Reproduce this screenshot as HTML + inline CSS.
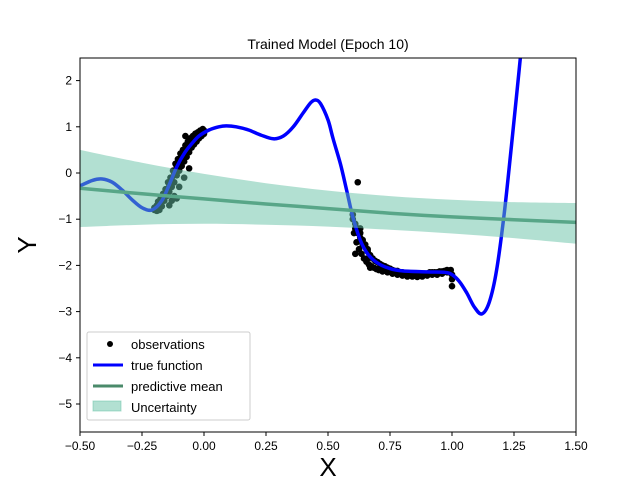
<!DOCTYPE html>
<html><head><meta charset="utf-8"><style>
body{margin:0;background:#fff;}
svg text{font-family:"Liberation Sans","DejaVu Sans",sans-serif;}
</style></head><body>
<svg id="chart" width="640" height="480" xmlns="http://www.w3.org/2000/svg">
<rect width="640" height="480" fill="#fff"/>
<defs><clipPath id="clip"><rect x="80" y="58" width="496" height="374"/></clipPath></defs>
<g id="plot" clip-path="url(#clip)"></g>
<rect x="80" y="58" width="496" height="374" fill="none" stroke="#000" stroke-width="1"/>
<g id="axes"></g>
<text x="328" y="49" font-size="14" text-anchor="middle">Trained Model (Epoch 10)</text>
<text x="328" y="476" font-size="26" text-anchor="middle">X</text>
<text x="36" y="245" font-size="26" text-anchor="middle" transform="rotate(-90 36 245)">Y</text>
<g>
<rect x="87" y="332" width="163" height="88" fill="#fff" fill-opacity="0.8" stroke="#ccc" rx="2"/>
<g><circle cx="110" cy="344" r="3" fill="#000"/><text x="131" y="349" font-size="13">observations</text></g>
<g><line x1="93" y1="365" x2="123" y2="365" stroke="#0000ff" stroke-width="3"/><text x="131" y="370" font-size="13">true function</text></g>
<g><line x1="93" y1="386" x2="123" y2="386" stroke="#4a8a6a" stroke-width="3"/><text x="131" y="391" font-size="13">predictive mean</text></g>
<g><rect x="93" y="401" width="28" height="10" fill="#66c2a5" fill-opacity="0.5" stroke="#66c2a5" stroke-opacity="0.5"/><text x="131" y="412" font-size="13">Uncertainty</text></g>
</g>
</svg>
<script>
const trueX=[-0.5,-0.45,-0.41,-0.37,-0.33,-0.29,-0.25,-0.21,-0.17,-0.14,-0.11,-0.08,-0.05,-0.02,0.02,0.06,0.09,0.13,0.18,0.23,0.28,0.32,0.36,0.4,0.43,0.45,0.47,0.5,0.52,0.55,0.575,0.6,0.63,0.66,0.7,0.75,0.8,0.9,0.97,1.0,1.03,1.06,1.09,1.12,1.15,1.18,1.21,1.24,1.27,1.3,1.33];
const trueY=[-0.28,-0.16,-0.13,-0.2,-0.37,-0.58,-0.75,-0.8,-0.6,-0.25,0.13,0.42,0.63,0.8,0.93,1.0,1.02,1.0,0.93,0.82,0.74,0.8,1.0,1.3,1.52,1.58,1.5,1.15,0.75,0.2,-0.37,-0.95,-1.45,-1.75,-1.95,-2.07,-2.12,-2.14,-2.15,-2.2,-2.35,-2.6,-2.9,-3.05,-2.8,-2.1,-0.9,0.6,2.2,3.8,5.5];
const meanX=[-0.5,-0.25,0,0.25,0.5,0.75,1.0,1.25,1.5];
const meanY=[-0.33,-0.45,-0.56,-0.67,-0.77,-0.87,-0.95,-1.01,-1.07];
const upperY=[0.5,0.22,-0.02,-0.22,-0.38,-0.5,-0.58,-0.63,-0.65];
const lowerY=[-1.17,-1.12,-1.1,-1.12,-1.16,-1.23,-1.31,-1.41,-1.53];
const obsX=[-0.2,-0.2,-0.19,-0.19,-0.18,-0.18,-0.17,-0.17,-0.16,-0.16,-0.15,-0.15,-0.14,-0.14,-0.13,-0.13,-0.12,-0.12,-0.11,-0.11,-0.1,-0.1,-0.09,-0.09,-0.08,-0.08,-0.07,-0.07,-0.06,-0.06,-0.05,-0.05,-0.04,-0.04,-0.03,-0.03,-0.02,-0.02,-0.01,-0.01,0,0,-0.075,-0.13,-0.11,
-0.185,-0.175,-0.165,-0.155,-0.145,-0.135,-0.125,-0.115,-0.105,-0.095,-0.085,-0.075,-0.065,-0.055,-0.045,-0.035,-0.025,-0.015,-0.005,-0.14,-0.12,-0.1,-0.08,-0.06,
0.6,0.6,0.61,0.61,0.62,0.62,0.63,0.63,0.64,0.64,0.65,0.65,0.66,0.66,0.67,0.68,0.69,0.7,0.71,0.72,0.73,0.74,0.75,0.76,0.77,0.78,0.79,0.8,0.81,0.82,0.83,0.84,0.85,0.86,0.87,0.88,0.89,0.9,0.91,0.92,0.93,0.94,0.95,0.96,0.97,0.98,0.99,1.0,1.0,1.0,0.62,0.61,0.63,0.66,0.64,0.67,
0.605,0.615,0.625,0.635,0.645,0.655,0.665,0.675,0.685,0.695,0.705,0.72,0.74,0.76,0.78,0.8,0.82,0.84,0.86,0.88,0.9,0.92,0.94,0.96,0.98,0.995];
const obsY=[-0.8,-0.75,-0.82,-0.7,-0.8,-0.68,-0.72,-0.6,-0.6,-0.5,-0.5,-0.35,-0.4,-0.25,-0.3,-0.1,-0.2,0.0,-0.05,0.15,0.05,0.25,0.15,0.35,0.25,0.45,0.35,0.55,0.45,0.62,0.55,0.7,0.62,0.78,0.68,0.82,0.75,0.86,0.8,0.9,0.85,0.92,0.8,-0.6,-0.55,
-0.62,-0.55,-0.45,-0.35,-0.2,-0.1,0.05,0.2,0.3,0.42,0.5,0.6,0.68,0.75,0.8,0.85,0.88,0.92,0.95,-0.7,-0.5,-0.3,-0.1,0.1,
-1.0,-0.9,-1.1,-1.2,-1.3,-1.2,-1.4,-1.3,-1.55,-1.45,-1.6,-1.55,-1.7,-1.65,-1.78,-1.85,-1.9,-1.93,-1.97,-2.0,-2.02,-2.05,-2.07,-2.1,-2.12,-2.12,-2.15,-2.15,-2.17,-2.2,-2.2,-2.2,-2.2,-2.22,-2.2,-2.2,-2.18,-2.18,-2.15,-2.15,-2.15,-2.15,-2.13,-2.13,-2.12,-2.15,-2.15,-2.2,-2.3,-2.45,-0.2,-1.75,-1.2,-1.85,-1.55,-2.05,
-1.3,-1.5,-1.65,-1.75,-1.85,-1.92,-1.98,-2.02,-2.05,-2.08,-2.1,-2.13,-2.15,-2.18,-2.2,-2.22,-2.24,-2.24,-2.25,-2.24,-2.22,-2.2,-2.2,-2.18,-2.1,-2.1];
const xTicks=[-0.5,-0.25,0,0.25,0.5,0.75,1.0,1.25,1.5];
const xTickLabels=["−0.50","−0.25","0.00","0.25","0.50","0.75","1.00","1.25","1.50"];
const yTicks=[2,1,0,-1,-2,-3,-4,-5];
const yTickLabels=["2","1","0","−1","−2","−3","−4","−5"];
const NS="http://www.w3.org/2000/svg";
const sx=v=>80+(v+0.5)*248;
const sy=v=>173-v*46.2;
const plot=document.getElementById('plot'),axes=document.getElementById('axes');
function mk(tag,at,parent){const e=document.createElementNS(NS,tag);for(const k in at)e.setAttribute(k,at[k]);parent.appendChild(e);return e;}
function smooth(xs,ys){const p=xs.map((x,i)=>[sx(x),sy(ys[i])]);let d='M'+p[0][0]+','+p[0][1];
for(let i=0;i<p.length-1;i++){const p0=p[Math.max(0,i-1)],p1=p[i],p2=p[i+1],p3=p[Math.min(p.length-1,i+2)];
const c1=[p1[0]+(p2[0]-p0[0])/6,p1[1]+(p2[1]-p0[1])/6],c2=[p2[0]-(p3[0]-p1[0])/6,p2[1]-(p3[1]-p1[1])/6];
d+=' C'+c1[0].toFixed(1)+','+c1[1].toFixed(1)+' '+c2[0].toFixed(1)+','+c2[1].toFixed(1)+' '+p2[0].toFixed(1)+','+p2[1].toFixed(1);}return d;}
obsX.forEach((x,i)=>{const c=mk('circle',{cx:sx(x),cy:sy(obsY[i]),r:3.3,fill:'#000'},plot);

});
const tl=mk('path',{d:smooth(trueX,trueY),fill:'none',stroke:'#0000ff','stroke-width':3.5,'stroke-linejoin':'round'},plot);


const ml=mk('path',{d:smooth(meanX,meanY),fill:'none',stroke:'#4a8a6a','stroke-width':3.5},plot);


const upPath=smooth(meanX,upperY);
const loPath=smooth(meanX.slice().reverse(),lowerY.slice().reverse()).replace(/^M/,' L');
const band=mk('path',{d:upPath+loPath+' Z',fill:'#66c2a5','fill-opacity':0.5},plot);


xTicks.forEach((t,i)=>{mk('line',{x1:sx(t),x2:sx(t),y1:432,y2:436,stroke:'#000'},axes);
const tx=mk('text',{x:sx(t),y:450,'font-size':12,'text-anchor':'middle'},axes);tx.textContent=xTickLabels[i];

});
yTicks.forEach((t,i)=>{mk('line',{x1:76,x2:80,y1:sy(t),y2:sy(t),stroke:'#000'},axes);
const tx=mk('text',{x:72,y:sy(t)+4,'font-size':12,'text-anchor':'end'},axes);tx.textContent=yTickLabels[i];

});
</script>
</body></html>
